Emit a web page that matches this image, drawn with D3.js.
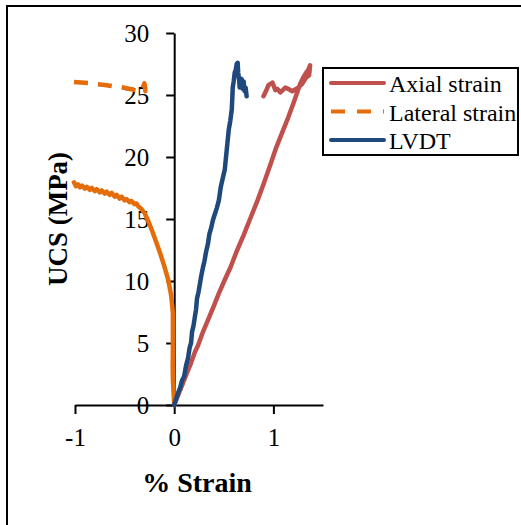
<!DOCTYPE html>
<html>
<head>
<meta charset="utf-8">
<script src="https://d3js.org/d3.v7.min.js"></script>
<style>
  html, body { margin: 0; padding: 0; background: #fff; }
  svg { display: block; }
</style>
</head>
<body>
<svg id="chart" width="521" height="525"></svg>
<script>
// ---- data ----
const xTicks = [-1, 0, 1];
const xTickLabels = ["-1", "0", "1"];
const yTicks = [0, 5, 10, 15, 20, 25, 30];
const seriesNames = ["Axial strain", "Lateral strain", "LVDT"];

const axialStrain = [
  [0,0],[0.05,1.0],[0.10,2.0],[0.14,2.8],[0.17,3.4],[0.21,4.3],[0.24,4.8],[0.29,5.9],
  [0.34,6.85],[0.40,8.0],[0.45,9.0],[0.51,10.1],[0.57,11.15],[0.63,12.4],[0.70,13.7],
  [0.77,15.1],[0.84,16.5],[0.90,17.8],[0.97,19.4],[1.03,20.8],[1.09,22.0],[1.15,23.2],
  [1.20,24.3],[1.24,25.2],[1.27,25.9],[1.30,26.4],[1.33,26.8],[1.35,27.0],[1.37,27.4],
  [1.36,26.6],[1.33,26.4],[1.29,25.9],[1.25,25.6],[1.19,25.3],[1.15,25.5],[1.12,25.6],
  [1.07,25.2],[1.04,25.5],[1.02,25.4],[0.99,26.0],[0.97,25.9],[0.95,25.8],[0.93,25.4],[0.90,24.9]
];

const lateralStrain = [
  [-1.01,26.05],[-0.85,25.95],[-0.7,25.8],[-0.55,25.65],[-0.42,25.45],[-0.34,25.25],
  [-0.32,25.55],[-0.30,25.95],[-0.29,25.3],[-0.27,25.7]
];

const lateralCurve = [
  [-1.01,17.95],[-0.99,17.65],[-0.97,17.8],[-0.95,17.55],[-0.93,17.7],[-0.90,17.45],
  [-0.88,17.6],[-0.85,17.35],[-0.83,17.5],[-0.80,17.25],[-0.78,17.4],[-0.75,17.15],
  [-0.73,17.3],[-0.70,17.05],[-0.68,17.2],[-0.65,16.95],[-0.63,17.1],[-0.60,16.8],
  [-0.58,16.95],[-0.55,16.65],[-0.53,16.8],[-0.50,16.5],[-0.48,16.6],[-0.45,16.35],
  [-0.43,16.45],[-0.40,16.2],[-0.38,16.25],[-0.36,16.0],[-0.33,15.8],[-0.30,15.5],
  [-0.26,14.8],[-0.22,14.0],[-0.18,13.1],[-0.14,12.2],[-0.10,11.2],[-0.06,10.1],
  [-0.03,8.8],[-0.013,7.4],[-0.013,5.0],[-0.015,3.0],[-0.013,2.0],[-0.005,0.8],[0,0]
];

const lvdt = [
  [0,0],[0.02,0.5],[0.04,1.0],[0.06,1.4],[0.08,2.0],[0.10,2.3],[0.12,3.2],[0.14,3.8],
  [0.155,4.6],[0.17,5.0],[0.18,5.9],[0.195,6.4],[0.21,7.2],[0.22,7.7],[0.23,8.6],
  [0.245,9.1],[0.26,9.8],[0.27,10.3],[0.29,11.1],[0.305,11.6],[0.32,12.3],[0.34,13.0],
  [0.355,13.8],[0.37,14.2],[0.39,14.9],[0.41,15.4],[0.43,15.9],[0.45,16.5],[0.47,17.6],
  [0.49,18.3],[0.51,19.0],[0.52,19.8],[0.53,20.6],[0.54,21.4],[0.55,22.2],[0.565,22.9],
  [0.58,23.8],[0.585,24.6],[0.59,25.6],[0.60,26.1],[0.61,26.8],[0.62,27.0],[0.63,27.5],
  [0.64,27.6],[0.645,26.8],[0.655,26.2],[0.66,25.6],[0.67,25.9],[0.68,26.3],[0.69,25.5],
  [0.70,26.1],[0.71,25.3],[0.72,25.6],[0.73,24.9]
];

const colors = { axial: "#C0504D", lateral: "#E46C0A", lvdt: "#1F497D" };

// ---- drawing ----
const svg = d3.select("#chart");
const serif = "'Liberation Serif', 'Times New Roman', serif";

// outer frame (only top and left visible)
svg.append("rect").attr("x", 7).attr("y", 6).attr("width", 530).attr("height", 540)
  .attr("fill", "none").attr("stroke", "#000").attr("stroke-width", 2);

const x = d3.scaleLinear().domain([-1, 1.5]).range([75, 323]);
const y = d3.scaleLinear().domain([0, 30]).range([405, 33]);

// y axis
const yAxis = svg.append("g").attr("transform", `translate(${x(0)},0)`)
  .call(d3.axisLeft(y).tickValues(yTicks).tickSize(8).tickPadding(17).tickSizeOuter(0));
yAxis.select(".domain").attr("stroke-width", 2);
yAxis.selectAll(".tick line").attr("stroke-width", 2);
yAxis.selectAll("text").attr("font-family", serif).attr("font-size", 25).attr("fill", "#000");

// x axis
const xAxis = svg.append("g").attr("transform", `translate(0,${y(0)})`)
  .call(d3.axisBottom(x).tickValues(xTicks).tickFormat((d, i) => xTickLabels[i])
    .tickSize(9).tickPadding(14).tickSizeOuter(0));
xAxis.select(".domain").attr("stroke-width", 2);
xAxis.selectAll(".tick line").attr("stroke-width", 2);
xAxis.selectAll("text").attr("font-family", serif).attr("font-size", 25).attr("fill", "#000");

// axis titles
svg.append("text").attr("x", 197).attr("y", 492).attr("text-anchor", "middle")
  .attr("font-family", serif).attr("font-weight", "bold").attr("font-size", 28)
  .text("% Strain");
svg.append("text").attr("transform", "translate(67,219) rotate(-90)").attr("text-anchor", "middle")
  .attr("font-family", serif).attr("font-weight", "bold").attr("font-size", 27)
  .text("UCS (MPa)");

// lines
const line = d3.line().x(d => x(d[0])).y(d => y(d[1]));
function draw(data, color, dash) {
  svg.append("path").datum(data).attr("d", line)
    .attr("fill", "none").attr("stroke", color).attr("stroke-width", 4.5)
    .attr("stroke-linejoin", "round").attr("stroke-linecap", dash ? "butt" : "round")
    .attr("stroke-dasharray", dash || null);
}
draw(lateralCurve, colors.lateral);
draw(lateralStrain, colors.lateral, "14,10");
draw(axialStrain, colors.axial);
draw(lvdt, colors.lvdt);

// legend
const lg = svg.append("g");
lg.append("rect").attr("x", 323).attr("y", 68).attr("width", 195).attr("height", 87)
  .attr("fill", "#fff").attr("stroke", "#000").attr("stroke-width", 2);
const legendItems = [
  { name: seriesNames[0], color: colors.axial, dash: null },
  { name: seriesNames[1], color: colors.lateral, dash: "14,12" },
  { name: seriesNames[2], color: colors.lvdt, dash: null }
];
legendItems.forEach((d, i) => {
  const cy = 83 + i * 28.5;
  lg.append("line").attr("x1", 331).attr("x2", 384).attr("y1", cy).attr("y2", cy)
    .attr("stroke", d.color).attr("stroke-width", 4).attr("stroke-dasharray", d.dash)
    .attr("stroke-linecap", d.dash ? "butt" : "round");
  lg.append("text").attr("x", 389).attr("y", cy + 9).attr("font-family", serif)
    .attr("font-size", 24).text(d.name);
});
</script>
</body>
</html>
